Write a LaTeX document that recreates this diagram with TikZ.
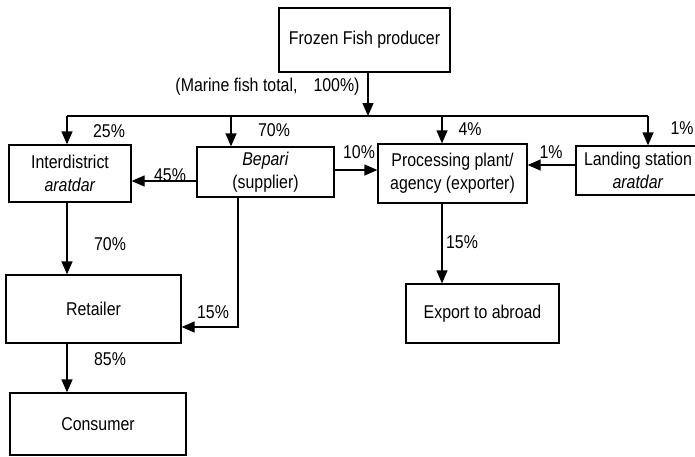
\documentclass[tikz,border=0pt]{standalone}
\usepackage{fontspec}
\setmainfont{Liberation Sans}[FakeStretch=0.86]
\usetikzlibrary{arrows.meta, positioning, calc}
\tikzset{
  box/.style={rectangle, draw=black, fill=white, line width=1.3pt,
    align=center, inner sep=2pt, font=\fontsize{18.5}{23}\selectfont},
  pct/.style={font=\fontsize{18.5}{22}\selectfont, inner sep=0pt},
  arrow/.style={-{Triangle[length=13pt, width=11pt]}, line width=1.3pt},
  line/.style={line width=1.3pt}
}

\begin{document}
\begin{tikzpicture}[x=1pt, y=-1pt]
  \useasboundingbox (0,0) rectangle (695,456);

  % Boxes
  \node[box, minimum width=171pt, minimum height=64pt] (prod) at (364.5,40) {Frozen Fish producer};
  \node[box, minimum width=122pt, minimum height=57pt] (inter) at (70,173.5) {Interdistrict\\\textit{aratdar}};
  \node[box, minimum width=137pt, minimum height=50pt] (bepari) at (265.5,172) {\textit{Bepari}\\(supplier)};
  \node[box, minimum width=149pt, minimum height=59pt] (proc) at (452.5,173.5) {Processing plant/\\agency (exporter)};
  \node[box, minimum width=124pt, minimum height=49pt] (land) at (638,170.5) {Landing station\\\textit{aratdar}};
  \node[box, minimum width=175pt, minimum height=68pt] (retail) at (93.5,309) {Retailer};
  \node[box, minimum width=153pt, minimum height=59pt] (export) at (482.5,313.5) {Export to abroad};
  \node[box, minimum width=176pt, minimum height=62pt] (cons) at (98,424) {Consumer};

  % Split line
  \coordinate (split) at (368,116);
  \coordinate (b1) at (67,116);
  \coordinate (b2) at (231,116);
  \coordinate (b3) at (442,116);
  \coordinate (b4) at (648,116);
  \draw[arrow] (split |- prod.south) -- (split);
  \draw[line] (b1) -- (b4);
  \draw[arrow] (b1) -- (b1 |- inter.north);
  \draw[arrow] (b2) -- (b2 |- bepari.north);
  \draw[arrow] (b3) -- (b3 |- proc.north);
  \draw[arrow] (b4) -- (b4 |- land.north);

  % Connections
  \coordinate (bend) at (238,327);
  \draw[arrow] (bepari.west |- 0,181) -- (inter.east |- 0,181);
  \draw[arrow] (bepari.east |- 0,170) -- (proc.west |- 0,170);
  \draw[arrow] (land.west |- 0,165) -- (proc.east |- 0,165);
  \draw[arrow] (b1 |- inter.south) -- (b1 |- retail.north);
  \draw[arrow] (b1 |- retail.south) -- (b1 |- cons.north);
  \draw[arrow] (bend |- bepari.south) -- (bend) -- (bend -| retail.east);
  \draw[arrow] (b3 |- proc.south) -- (b3 |- export.north);

  % Labels
  \node[pct] (ltot) at (267.5,87) {(Marine fish total,\hspace{16pt}100\%)};
  \node[pct] (l25) at (109,131) {25\%};
  \node[pct] (l70) at (274,130) {70\%};
  \node[pct] (l4) at (470,129) {4\%};
  \node[pct] (l1) at (682,128) {1\%};
  \node[pct] (l45) at (170,175) {45\%};
  \node[pct] (l10) at (359,152) {10\%};
  \node[pct] (l1b) at (551,152) {1\%};
  \node[pct] (l70b) at (110,244) {70\%};
  \node[pct] (l15) at (213,312) {15\%};
  \node[pct] (l15b) at (462,242) {15\%};
  \node[pct] (l85) at (110,359) {85\%};

\end{tikzpicture}
\end{document}
